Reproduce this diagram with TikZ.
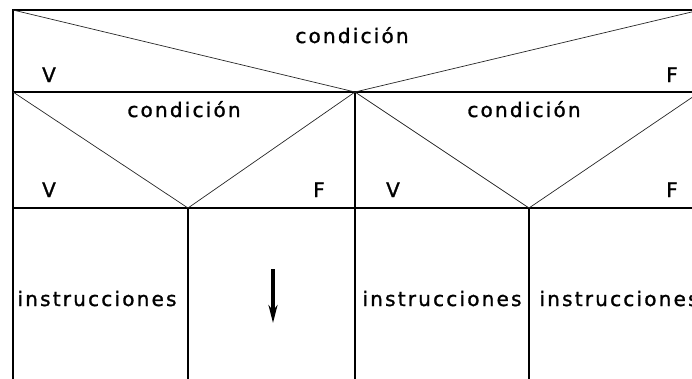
\documentclass[tikz,border=0pt]{standalone}
\usepackage{fontspec}
\newfontfamily\df[LetterSpace=11, FakeBold=1.3]{DejaVu Sans}
\usetikzlibrary{arrows.meta}
\tikzset{
  lbl/.style={inner sep=0pt, anchor=base, font=\df\fontsize{20}{22}\selectfont},
  border/.style={line width=1.1pt, black},
  diag/.style={line width=0.7pt, black!85},
  flow/.style={line width=3.5pt, -{Stealth[length=18pt, width=9pt]}}
}
\begin{document}
\begin{tikzpicture}[x=1pt, y=-1pt]
\useasboundingbox (0,0) rectangle (692,378);
\clip (0,0) rectangle (692,378);
% frame coordinates
\coordinate (TL) at (13,10);
\coordinate (TR) at (700,10);
\coordinate (ML) at (13,92);
\coordinate (MR) at (700,92);
\coordinate (MC) at (355,92);
\coordinate (LL) at (13,208);
\coordinate (LR) at (700,208);
\coordinate (BL) at (13,380);
\coordinate (A) at (188,208);
\coordinate (B) at (529,208);
\coordinate (Ab) at (188,380);
\coordinate (Bb) at (529,380);
\coordinate (MCb) at (355,380);
% borders
\draw[border] (BL) -- (TL) -- (TR);
\draw[border] (ML) -- (MR);
\draw[border] (LL) -- (LR);
\draw[border] (MC) -- (MCb);
\draw[border] (A) -- (Ab);
\draw[border] (B) -- (Bb);
% diagonals
\draw[diag] (TL) -- (MC) -- (TR);
\draw[diag] (ML) -- (A) -- (MC);
\draw[diag] (MC) -- (B) -- (MR);
% labels
\node[lbl] (c0) at (352,43) {condición};
\node[lbl] (v0) at (49,82) {V};
\node[lbl] (f0) at (672,82) {F};
\node[lbl] (c1) at (184,117) {condición};
\node[lbl] (v1) at (49,197) {V};
\node[lbl] (f1) at (319,197) {F};
\node[lbl] (c2) at (524,117) {condición};
\node[lbl] (v2) at (393,197) {V};
\node[lbl] (f2) at (672,197) {F};
\node[lbl] (i1) at (97,306) {instrucciones};
\node[lbl] (i2) at (442,306) {instrucciones};
\node[lbl] (i3) at (619,306) {instrucciones};
% arrow
\coordinate (ar1) at (273,269);
\coordinate (ar2) at (273,323);
\draw[flow] (ar1) -- (ar2);
\end{tikzpicture}
\end{document}
